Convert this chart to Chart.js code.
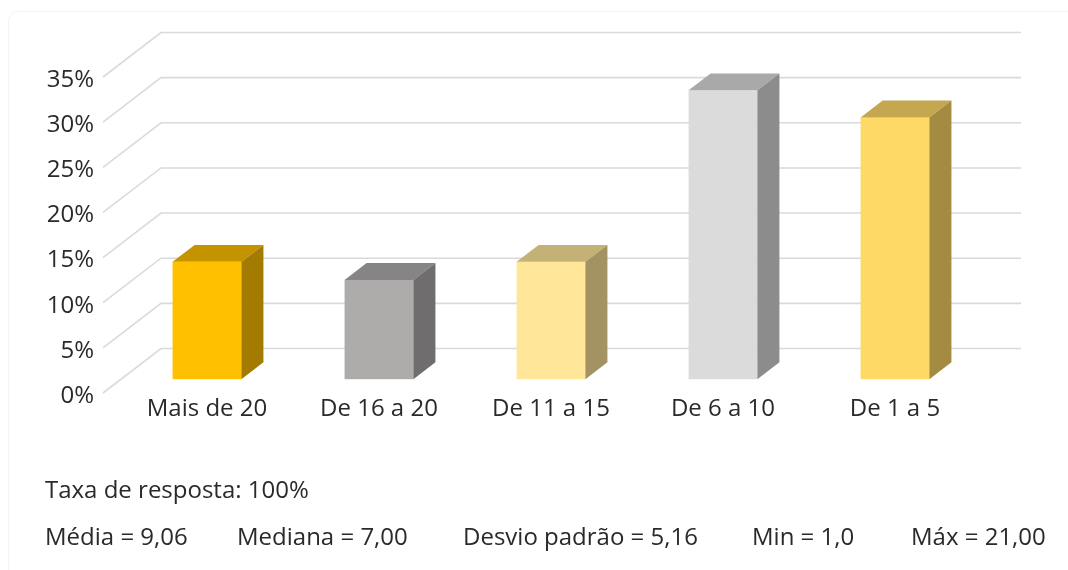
<!DOCTYPE html>
<html lang="pt">
<head>
<meta charset="utf-8">
<title>Anos de experiência</title>
<script src="https://cdn.jsdelivr.net/npm/chart.js@4/dist/chart.umd.min.js"></script>
<style>
  html, body { margin: 0; padding: 0; background: #fff; }
  #wrap { position: relative; width: 1068px; height: 570px; overflow: hidden; }
  #frame { position: absolute; left: 8px; top: 11px; width: 1100px; height: 600px;
           border: 1px solid #f4f4f4; border-radius: 10px; }
  #wrap canvas { position: absolute; left: 0; top: 0; }
</style>
</head>
<body>
<div id="wrap">
  <div id="frame"></div>
  <canvas id="expChart"></canvas>
</div>
<script>
// chart data
const categories = ['Mais de 20', 'De 16 a 20', 'De 11 a 15', 'De 6 a 10', 'De 1 a 5'];
const shares = [13, 11, 13, 32, 29];
const barColors = ['#FFC000', '#AEABAB', '#FFE699', '#DBDBDB', '#FFD966'];
const yTicks = [0, 5, 10, 15, 20, 25, 30, 35];
const responseRate = 'Taxa de resposta: 100%';
const stats = ['Média = 9,06', 'Mediana = 7,00', 'Desvio padrão = 5,16', 'Min = 1,0', 'Máx = 21,00'];

// 3D look: how far the back wall sits from the front plane
const DEPTH_X = 58;
const DEPTH_Y = -44.5;
const BAR_FRONT = 0.31;   // bar front face, as a fraction of depth
const BAR_BACK = 0.69;
const FONT = '"Open Sans", sans-serif';
const TEXT_COLOR = '#2a2a2a';
const statsX = [45, 237, 463, 752, 911];

function shade(hex, k) {
    const n = parseInt(hex.slice(1), 16);
    const r = Math.round(((n >> 16) & 255) * k);
    const g = Math.round(((n >> 8) & 255) * k);
    const b = Math.round((n & 255) * k);
    return `rgb(${r},${g},${b})`;
}

const box3d = {
    id: 'box3d',
    beforeDatasetsDraw(chart) {
        // back wall + side wall gridlines
        const { ctx, chartArea: a, scales: { y } } = chart;
        ctx.save();
        ctx.strokeStyle = '#dadada';
        ctx.lineWidth = 1.6;
        yTicks.forEach(v => {
            const py = y.getPixelForValue(v);
            ctx.beginPath();
            ctx.moveTo(a.left, py);
            ctx.lineTo(a.left + DEPTH_X, py + DEPTH_Y);
            ctx.lineTo(a.right + DEPTH_X, py + DEPTH_Y);
            ctx.stroke();
        });
        ctx.restore();
    },
    beforeDatasetDraw() {
        return false; // boxes are drawn below instead of flat bars
    },
    afterDatasetsDraw(chart) {
        const { ctx } = chart;
        const meta = chart.getDatasetMeta(0);
        const d = (BAR_BACK - BAR_FRONT) * DEPTH_X;
        const dy = (BAR_BACK - BAR_FRONT) * DEPTH_Y;
        ctx.save();
        meta.data.forEach((el, i) => {
            const w = el.width;
            const x0 = el.x - w / 2 + BAR_FRONT * DEPTH_X;
            const top = el.y + BAR_FRONT * DEPTH_Y;
            const base = el.base + BAR_FRONT * DEPTH_Y;
            const c = barColors[i];

            // front
            ctx.fillStyle = c;
            ctx.fillRect(x0, top, w, base - top);
            // top
            ctx.fillStyle = shade(c, 0.77);
            ctx.beginPath();
            ctx.moveTo(x0, top);
            ctx.lineTo(x0 + d, top + dy);
            ctx.lineTo(x0 + w + d, top + dy);
            ctx.lineTo(x0 + w, top);
            ctx.closePath();
            ctx.fill();
            // side
            ctx.fillStyle = shade(c, 0.64);
            ctx.beginPath();
            ctx.moveTo(x0 + w, top);
            ctx.lineTo(x0 + w + d, top + dy);
            ctx.lineTo(x0 + w + d, base + dy);
            ctx.lineTo(x0 + w, base);
            ctx.closePath();
            ctx.fill();
        });
        ctx.restore();
    },
    afterDraw(chart) {
        // notes under the chart
        const { ctx } = chart;
        ctx.save();
        ctx.font = `24px ${FONT}`;
        ctx.fillStyle = TEXT_COLOR;
        ctx.textBaseline = 'alphabetic';
        ctx.textAlign = 'left';
        ctx.fillText(responseRate, 45, 498);
        stats.forEach((s, i) => ctx.fillText(s, statsX[i], 545));
        ctx.restore();
    }
};

function drawChart() {
    const ctx = document.getElementById('expChart').getContext('2d');
    new Chart(ctx, {
        type: 'bar',
        data: {
            labels: categories,
            datasets: [{
                data: shares,
                backgroundColor: barColors,
                categoryPercentage: 1,
                barPercentage: 0.4
            }]
        },
        options: {
            responsive: true,
            maintainAspectRatio: false,
            animation: false,
            layout: { padding: { top: 77, right: 105, left: 0, bottom: 0 } },
            plugins: {
                legend: { display: false },
                tooltip: { enabled: false }
            },
            scales: {
                x: {
                    grid: { display: false, drawTicks: false },
                    border: { display: false },
                    ticks: {
                        font: { family: FONT, size: 24 },
                        color: TEXT_COLOR,
                        labelOffset: BAR_FRONT * DEPTH_X,
                        padding: 2,
                        maxRotation: 0
                    },
                    afterFit(s) { s.height = 177; }
                },
                y: {
                    min: 0,
                    max: 35,
                    grid: { display: false, drawTicks: false },
                    border: { display: false },
                    ticks: {
                        stepSize: 5,
                        callback: v => v + '%',
                        font: { family: FONT, size: 24 },
                        color: TEXT_COLOR,
                        padding: 9,
                        labelOffset: 3
                    },
                    afterFit(s) { s.width = 103; }
                }
            }
        },
        plugins: [box3d]
    });
}

document.fonts.load(`24px ${FONT}`).then(drawChart, drawChart);
</script>
</body>
</html>
